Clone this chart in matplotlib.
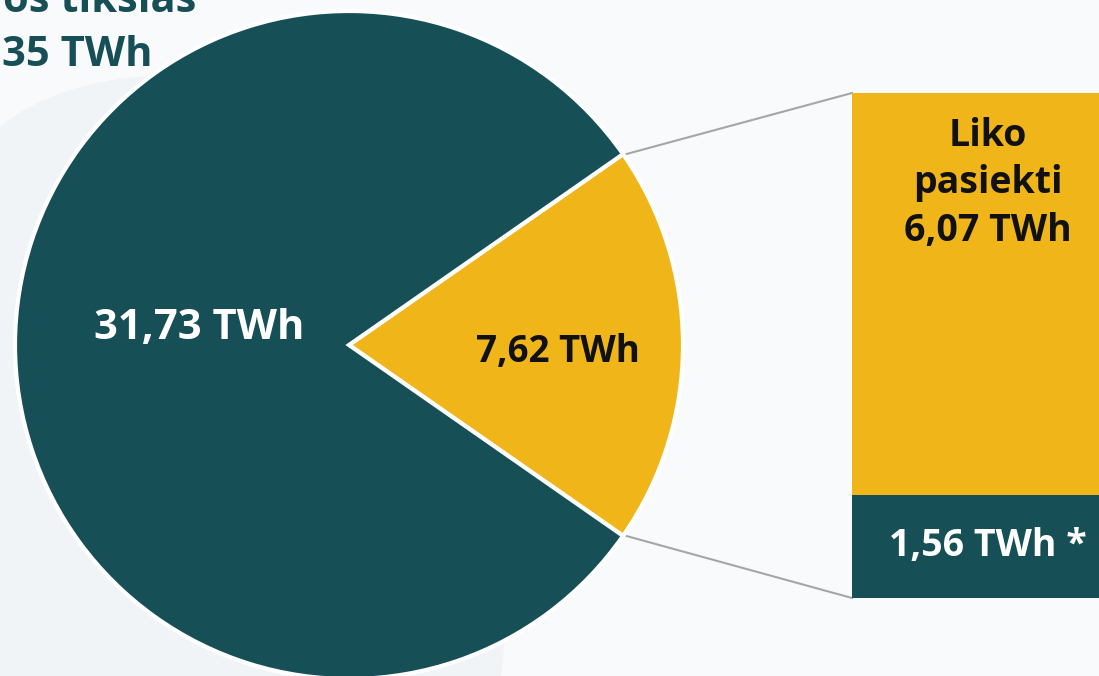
import numpy as np
import matplotlib.pyplot as plt
from matplotlib.patches import FancyBboxPatch

plt.rcParams['font.family'] = ['Open Sans', 'DejaVu Sans']

# duomenys
pie_labels = ['7,62 TWh', '31,73 TWh']
pie_values = [7.62, 31.73]
bar_labels = ['1,56 TWh *', 'Liko\npasiekti\n6,07 TWh']
bar_values = [1.56, 6.07]
title_lines = ['Lietuvos tikslas', '35 TWh']

TEAL = '#174F57'
GOLD = '#F0B619'
BG = '#F8FAFC'

W, H = 1099, 676
fig = plt.figure(figsize=(W / 100, H / 100), dpi=100)
fig.patch.set_facecolor(BG)

ax = fig.add_axes([0, 0, 1, 1])
ax.set_facecolor(BG)

# šviesus fonas kairėje
bg_box = FancyBboxPatch((-80, 75), 585, 800,
                        boxstyle='round,pad=0,rounding_size=260',
                        facecolor='#F1F4F6', edgecolor='none', zorder=0)
ax.add_patch(bg_box)

# pyragas
cx, cy, r = 349, 345, 334
span = 360 * pie_values[0] / sum(pie_values)
wedges, _ = ax.pie(pie_values, colors=[GOLD, TEAL], center=(cx, cy), radius=r,
                   startangle=-span / 2, counterclock=True,
                   wedgeprops=dict(edgecolor='white', linewidth=3))
for w in wedges:
    w.set_zorder(2)

ax.set_xlim(0, W)
ax.set_ylim(H, 0)
ax.axis('off')

ax.text(558, 352, pie_labels[0], ha='center', va='center', fontsize=26.5,
        fontweight='bold', color='#111111', zorder=3)
ax.text(199, 328, pie_labels[1], ha='center', va='center', fontsize=30,
        fontweight='bold', color='white', zorder=3)

# pavadinimas (nukirptas kaip originale)
ax.text(196, 2, title_lines[0], ha='right', va='center', fontsize=30,
        fontweight='bold', color=TEAL, zorder=3)
ax.text(153, 55, title_lines[1], ha='right', va='center', fontsize=30,
        fontweight='bold', color=TEAL, zorder=3)

# stulpelis
bx0, by_top, by_bot = 852, 93, 598
bax = fig.add_axes([bx0 / W, (H - by_bot) / H, (W - bx0 + 10) / W, (by_bot - by_top) / H])
bax.set_xlim(0, 1)
bax.set_ylim(0, sum(bar_values))
bax.axis('off')
bax.bar(0, bar_values[0], width=1.2, align='edge', color=TEAL)
bax.bar(0, bar_values[1], bottom=bar_values[0], width=1.2, align='edge', color=GOLD)
bax.text(0.53, bar_values[0] / 2, bar_labels[0], ha='center', va='center',
         fontsize=27, fontweight='bold', color='white')
bax.text(0.53, sum(bar_values) - 0.36, bar_labels[1], ha='center', va='top',
         fontsize=27, fontweight='bold', color='#111111', linespacing=1.33)

# jungiamosios linijos
t1 = np.deg2rad(wedges[0].theta1)
t2 = np.deg2rad(wedges[0].theta2)
p_top = (cx + r * np.cos(t1) + 3, cy + r * np.sin(t1))
p_bot = (cx + r * np.cos(t2) + 3, cy + r * np.sin(t2))
ax.plot([p_top[0], bx0], [p_top[1], by_top], color='#A6A6A6', lw=1.5, zorder=1)
ax.plot([p_bot[0], bx0], [p_bot[1], by_bot], color='#A6A6A6', lw=1.5, zorder=1)

fig.savefig('out.png', dpi=100, facecolor=BG)
